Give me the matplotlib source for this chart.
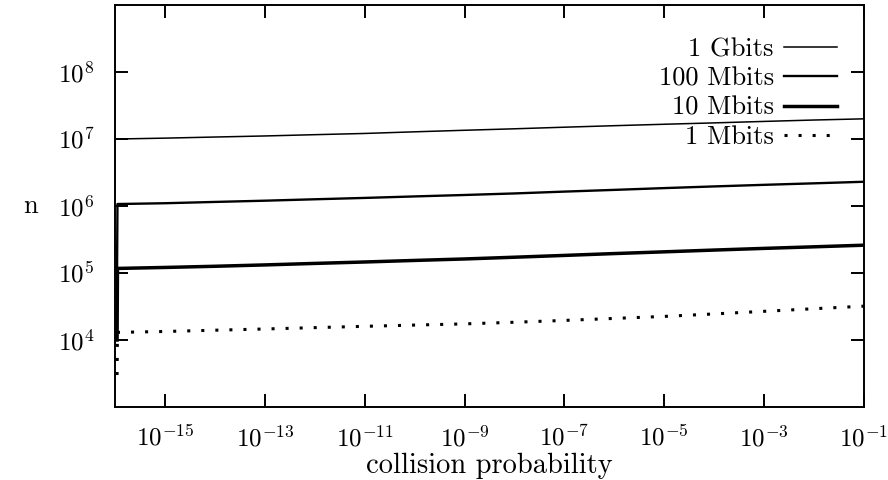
import matplotlib
matplotlib.use("Agg")
import matplotlib.pyplot as plt
from matplotlib.ticker import LogFormatterMathtext, FixedLocator, NullLocator

plt.rcParams['mathtext.fontset'] = 'cm'
plt.rcParams['font.family'] = ['cmr10', 'DejaVu Serif']
plt.rcParams['axes.formatter.use_mathtext'] = True

# collision probability (x) sample points
prob = [1.1e-16, 1.12e-16, 1e-15, 1e-14, 1e-13, 1e-12, 1e-11, 1e-10, 1e-9,
        1e-8, 1e-7, 1e-6, 1e-5, 1e-4, 1e-3, 1e-2, 1e-1]

# n values
n_1gbit = [1.00e7, 1.00e7, 1.03e7, 1.07e7, 1.11e7, 1.16e7, 1.21e7, 1.28e7, 1.35e7,
           1.42e7, 1.50e7, 1.58e7, 1.66e7, 1.74e7, 1.83e7, 1.92e7, 2.0e7]
n_100mbit = [1.2e5, 1.07e6, 1.10e6, 1.15e6, 1.20e6, 1.26e6, 1.32e6, 1.39e6, 1.46e6,
             1.54e6, 1.64e6, 1.74e6, 1.85e6, 1.96e6, 2.07e6, 2.18e6, 2.3e6]
n_10mbit = [1.0e4, 1.17e5, 1.21e5, 1.26e5, 1.32e5, 1.39e5, 1.46e5, 1.54e5, 1.62e5,
            1.72e5, 1.83e5, 1.95e5, 2.07e5, 2.2e5, 2.33e5, 2.46e5, 2.6e5]
n_1mbit = [3.0e3, 1.30e4, 1.34e4, 1.40e4, 1.46e4, 1.53e4, 1.60e4, 1.67e4, 1.74e4,
           1.84e4, 1.96e4, 2.10e4, 2.25e4, 2.45e4, 2.68e4, 2.93e4, 3.2e4]

labels = ["1 Gbits", "100 Mbits", "10 Mbits", "1 Mbits"]
xticks = [1e-15, 1e-13, 1e-11, 1e-9, 1e-7, 1e-5, 1e-3, 1e-1]
yticks = [1e4, 1e5, 1e6, 1e7, 1e8]

fig = plt.figure(figsize=(8.88, 4.8), dpi=100)
ax = fig.add_axes([115/888, 1-407/480, (864-115)/888, (407-5)/480])

ax.plot(prob, n_1gbit, color='black', lw=1.1, label=labels[0])
ax.plot(prob, n_100mbit, color='black', lw=1.7, label=labels[1])
ax.plot(prob, n_10mbit, color='black', lw=2.5, label=labels[2])
ax.plot(prob, n_1mbit, color='black', lw=2.2, linestyle=(0, (1, 3.6)),
        dash_capstyle='butt', label=labels[3])

ax.set_xscale('log')
ax.set_yscale('log')
ax.set_xlim(1e-16, 1e-1)
ax.set_ylim(1e3, 1e9)
ax.xaxis.set_major_locator(FixedLocator(xticks))
ax.yaxis.set_major_locator(FixedLocator(yticks))
ax.xaxis.set_minor_locator(NullLocator())
ax.yaxis.set_minor_locator(NullLocator())
ax.xaxis.set_major_formatter(LogFormatterMathtext())
ax.yaxis.set_major_formatter(LogFormatterMathtext())

ax.tick_params(which='major', direction='in', length=9.5, width=1.4,
               top=True, right=True, labelsize=18)
ax.tick_params(axis='x', pad=13)
ax.tick_params(axis='y', pad=15)
for sp in ax.spines.values():
    sp.set_linewidth(1.4)

ax.set_xlabel("collision probability", fontsize=20.5, labelpad=1)
ax.set_ylabel("n", fontsize=19, rotation=0, va='center', ha='center')
ax.yaxis.set_label_coords((30 - 115) / 749, 0.5)

leg = ax.legend(loc='upper right', bbox_to_anchor=(1.008, 1.0), frameon=False,
                markerfirst=False, fontsize=19, handlelength=2.0,
                handletextpad=0.4, labelspacing=0.2, borderaxespad=0.85,
                borderpad=0.4)

fig.savefig("out.png", dpi=100)
